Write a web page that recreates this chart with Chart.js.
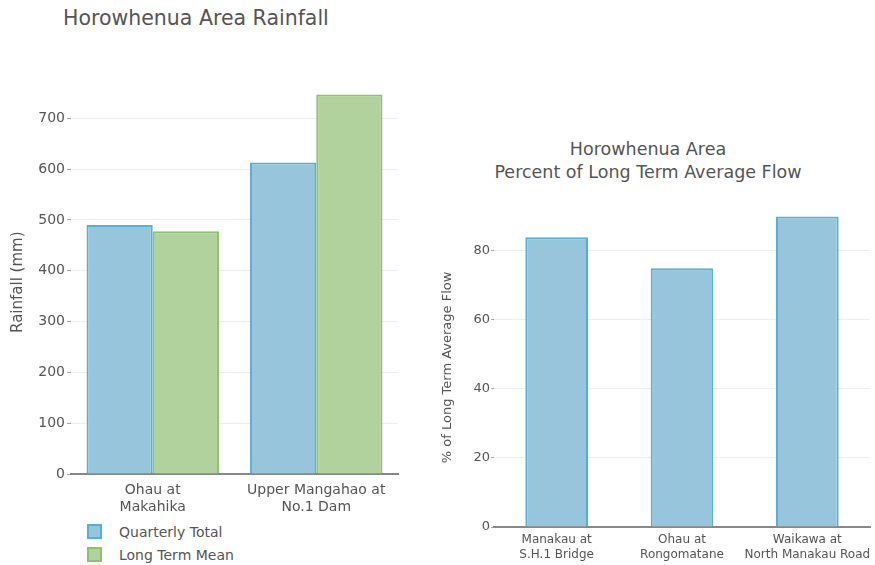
<!DOCTYPE html>
<html>
<head>
<meta charset="utf-8">
<script src="https://cdn.jsdelivr.net/npm/chart.js@4"></script>
<style>
  body { margin: 0; background: #fff; width: 875px; height: 565px; position: relative; overflow: hidden; }
  .title { position: absolute; font-family: "DejaVu Sans", sans-serif; color: #555; white-space: nowrap; }
  #t1 { left: 63px; top: 6px; font-size: 20.5px; line-height: 24px; }
  #t2 { left: 448px; width: 400px; top: 138px; font-size: 17.5px; text-align: center; line-height: 23px; }
  #c1wrap { position: absolute; left: 0; top: 80px; width: 410px; height: 440px; }
  #c2wrap { position: absolute; left: 430px; top: 199px; width: 445px; height: 366px; }
  #legend { position: absolute; left: 87px; top: 520px; font-family: "DejaVu Sans", sans-serif; font-size: 14px; color: #555; }
  #legend div { height: 23px; display: flex; align-items: center; }
  #legend span.box { display: inline-block; width: 11px; height: 11px; border: 2px solid; margin-right: 17px; }
</style>
</head>
<body>
<div class="title" id="t1">Horowhenua Area Rainfall</div>
<div class="title" id="t2">Horowhenua Area<br>Percent of Long Term Average Flow</div>
<div id="c1wrap"><canvas id="rainChart"></canvas></div>
<div id="c2wrap"><canvas id="flowChart"></canvas></div>
<div id="legend"></div>
<script>
// rainfall sites
var rainSites = [['Ohau at', 'Makahika'], ['Upper Mangahao at', 'No.1 Dam']];
var quarterlyTotal = [490, 613];
var longTermMean = [478, 747];

// flow sites
var flowSites = [['Manakau at', 'S.H.1 Bridge'], ['Ohau at', 'Rongomatane'], ['Waikawa at', 'North Manakau Road']];
var flowPercent = [84, 75, 90];

var blueFill = '#97c5dc', blueLine = '#52b2d6';
var greenFill = '#b1d19d', greenLine = '#88c46c';
var textColor = '#555';

var rainChart = new Chart(document.getElementById('rainChart'), {
  type: 'bar',
  data: {
    labels: rainSites,
    datasets: [{
      label: 'Quarterly Total',
      data: quarterlyTotal,
      backgroundColor: blueFill,
      borderColor: blueLine,
      borderWidth: 2,
      categoryPercentage: 0.81,
      barPercentage: 1.0
    },
    {
      label: 'Long Term Mean',
      data: longTermMean,
      backgroundColor: greenFill,
      borderColor: greenLine,
      borderWidth: 2,
      categoryPercentage: 0.81,
      barPercentage: 1.0
    }]
  },
  options: {
    responsive: true,
    maintainAspectRatio: false,
    animation: false,
    layout: { padding: { left: 0, right: 12, top: 2, bottom: 0 } },
    plugins: { legend: { display: false }, tooltip: { enabled: false } },
    scales: {
      x: {
        afterFit: function (scale) { scale.height = 46; },
        grid: { display: false, drawTicks: false },
        border: { color: '#888', width: 2 },
        ticks: { color: textColor, font: { family: 'DejaVu Sans', size: 14 }, padding: 8, maxRotation: 0, autoSkip: false }
      },
      y: {
        min: 0,
        max: 755,
        afterFit: function (scale) { scale.width = 71; },
        afterBuildTicks: function (scale) {
          scale.ticks = scale.ticks.filter(function (t) { return t.value % 100 === 0; });
        },
        grid: { color: '#eee', tickColor: '#aaa', tickLength: 4 },
        border: { display: false },
        ticks: { color: textColor, font: { family: 'DejaVu Sans', size: 14 }, padding: 2, stepSize: 100 },
        title: { display: true, text: 'Rainfall (mm)', color: textColor, font: { family: 'DejaVu Sans', size: 15 }, padding: { top: 9, bottom: 0 } }
      }
    }
  }
});

// legend built from the datasets
var legend = document.getElementById('legend');
rainChart.data.datasets.forEach(function (ds) {
  var row = document.createElement('div');
  row.innerHTML = '<span class="box" style="background:' + ds.backgroundColor + ';border-color:' + ds.borderColor + '"></span>' + ds.label;
  legend.appendChild(row);
});

var flowChart = new Chart(document.getElementById('flowChart'), {
  type: 'bar',
  data: {
    labels: flowSites,
    datasets: [{
      label: '% of Long Term Average Flow',
      data: flowPercent,
      backgroundColor: blueFill,
      borderColor: blueLine,
      borderWidth: 2,
      categoryPercentage: 1.0,
      barPercentage: 0.5
    }]
  },
  options: {
    responsive: true,
    maintainAspectRatio: false,
    animation: false,
    layout: { padding: { left: 0, right: 5, top: 4, bottom: 0 } },
    plugins: { legend: { display: false }, tooltip: { enabled: false } },
    scales: {
      x: {
        afterFit: function (scale) { scale.height = 38; scale.paddingRight = 0; },
        grid: { display: false, drawTicks: false },
        border: { color: '#888', width: 2 },
        ticks: { color: textColor, font: { family: 'DejaVu Sans', size: 12 }, padding: 6, maxRotation: 0, autoSkip: false }
      },
      y: {
        min: 0,
        max: 92.5,
        afterFit: function (scale) { scale.width = 64; },
        afterBuildTicks: function (scale) {
          scale.ticks = scale.ticks.filter(function (t) { return t.value % 20 === 0; });
        },
        grid: { color: '#eee', tickColor: '#aaa', tickLength: 3 },
        border: { display: false },
        ticks: { color: textColor, font: { family: 'DejaVu Sans', size: 13 }, padding: 1, stepSize: 20 },
        title: { display: true, text: '% of Long Term Average Flow', color: textColor, font: { family: 'DejaVu Sans', size: 13 }, padding: { top: 10, bottom: 0 } }
      }
    }
  }
});
</script>
</body>
</html>
